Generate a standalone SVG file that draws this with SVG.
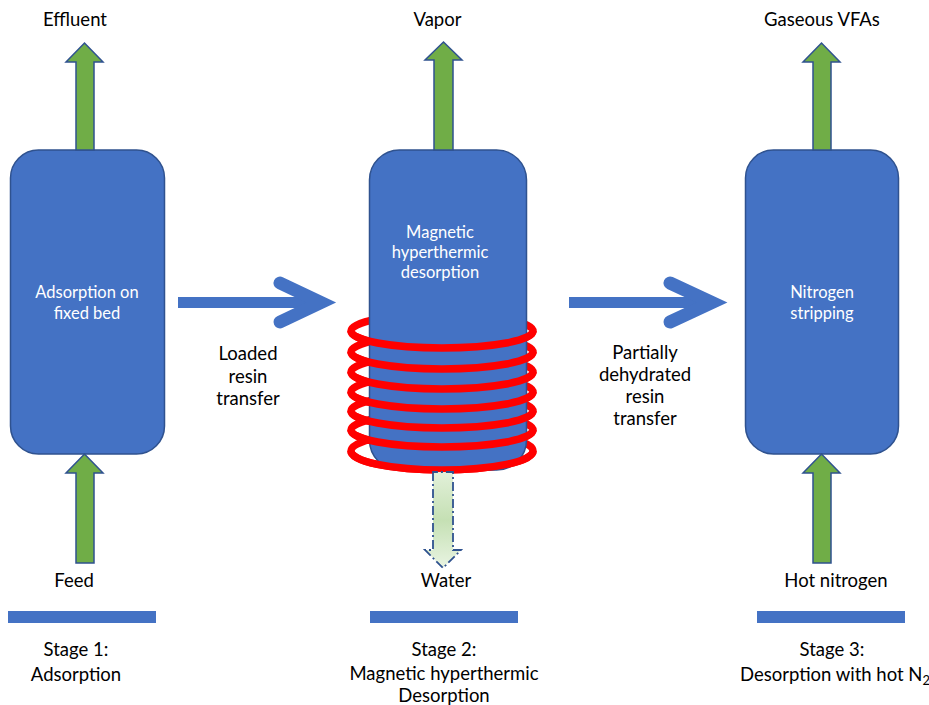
<svg xmlns="http://www.w3.org/2000/svg" width="929" height="705" viewBox="0 0 929 705">
  <defs>
    <style>
      .vessel { fill: #4472C4; stroke: #2F528F; stroke-width: 1.5; }
      .flow { fill: #70AD47; stroke: #2F528F; stroke-width: 1.5; stroke-linejoin: miter; }
      .drain { fill: url(#waterFill); stroke: #2F528F; stroke-width: 1.8; stroke-dasharray: 9 3 2 3; }
      .bar { fill: #4472C4; }
      .coil { fill: none; stroke: #FF0000; stroke-width: 7.5; }
      .shaft { stroke: #4472C4; stroke-width: 11; fill: none; }
      .head { stroke: #4472C4; stroke-width: 13; fill: none; stroke-linecap: round; stroke-linejoin: miter; }
      .label { font-family: Lato, "Liberation Sans", sans-serif; font-size: 18.5px; fill: #000; text-anchor: middle; }
      .inner { font-family: Lato, "Liberation Sans", sans-serif; font-size: 16.5px; fill: #FFFFFF; text-anchor: middle; }
    </style>
    <linearGradient id="waterFill" x1="0" y1="0" x2="0" y2="1">
      <stop offset="0" stop-color="#E2F0D9"/>
      <stop offset="0.5" stop-color="#C5E0B4"/>
      <stop offset="1" stop-color="#E9F4E2"/>
    </linearGradient>
  </defs>

  <!-- Stage 1: fixed-bed adsorption column -->
  <g id="stage1">
    <rect class="vessel" x="10.5" y="150" width="154" height="304" rx="28"/>
    <text class="inner" x="87" y="298">Adsorption on</text>
    <text class="inner" x="87" y="319">fixed bed</text>
  </g>

  <!-- Stage 2: column with induction coil -->
  <g id="stage2">
    <g id="coil-back">
      <ellipse class="coil" cx="442" cy="331" rx="91" ry="17"/>
      <ellipse class="coil" cx="442" cy="352" rx="91" ry="17"/>
      <ellipse class="coil" cx="442" cy="372" rx="91" ry="17"/>
      <ellipse class="coil" cx="442" cy="392" rx="91" ry="17"/>
      <ellipse class="coil" cx="442" cy="411" rx="91" ry="17"/>
      <ellipse class="coil" cx="442" cy="430" rx="91" ry="17"/>
      <ellipse class="coil" cx="442" cy="451" rx="91" ry="19"/>
    </g>
    <rect class="vessel" x="369.5" y="150" width="157" height="320" rx="30"/>
    <g id="coil-front">
      <path class="coil" d="M351 331 A91 17 0 0 0 533 331"/>
      <path class="coil" d="M351 352 A91 17 0 0 0 533 352"/>
      <path class="coil" d="M351 372 A91 17 0 0 0 533 372"/>
      <path class="coil" d="M351 392 A91 17 0 0 0 533 392"/>
      <path class="coil" d="M351 411 A91 17 0 0 0 533 411"/>
      <path class="coil" d="M351 430 A91 17 0 0 0 533 430"/>
      <path class="coil" d="M351 451 A91 19 0 0 0 533 451"/>
    </g>
    <text class="inner" x="440" y="238">Magnetic</text>
    <text class="inner" x="440" y="258">hyperthermic</text>
    <text class="inner" x="440" y="278">desorption</text>
  </g>

  <!-- Stage 3: nitrogen stripping column -->
  <g id="stage3">
    <rect class="vessel" x="745.5" y="150" width="153" height="304" rx="28"/>
    <text class="inner" x="822" y="298">Nitrogen</text>
    <text class="inner" x="822" y="319">stripping</text>
  </g>

  <!-- Connectors: process streams and resin transfers -->
  <g id="connectors">
    <!-- outlet streams -->
    <polygon class="flow" points="76,150 76,62 66,62 84.5,43 103,62 94,62 94,150"/>
    <polygon class="flow" points="434,150 434,60 425,60 443.5,42 462,60 453,60 453,150"/>
    <polygon class="flow" points="813,150 813,62 803,62 821.5,43 840,62 831,62 831,150"/>
    <!-- inlet streams -->
    <polygon class="flow" points="76,563 76,473 66,473 84.5,454 103,473 94,473 94,563"/>
    <polygon class="flow" points="813,563 813,473 803,473 821.5,454 840,473 831,473 831,563"/>
    <!-- water drain -->
    <polygon class="drain" points="433,472 433,550 425,550 443,568 461,550 453,550 453,472"/>
    <!-- resin transfer arrows -->
    <line class="shaft" x1="178" y1="302.5" x2="318" y2="302.5"/>
    <polyline class="head" points="280,283 321,302.5 280,322"/>
    <line class="shaft" x1="569" y1="302.5" x2="710" y2="302.5"/>
    <polyline class="head" points="670,283 712,302.5 670,322"/>
  </g>

  <!-- Stream labels -->
  <g id="labels">
    <text class="label" x="75" y="26">Effluent</text>
    <text class="label" x="437.5" y="26">Vapor</text>
    <text class="label" x="822" y="26">Gaseous VFAs</text>
    <text class="label" x="74" y="587">Feed</text>
    <text class="label" x="446" y="587">Water</text>
    <text class="label" x="836" y="587">Hot nitrogen</text>
    <text class="label" x="248" y="360">Loaded</text>
    <text class="label" x="248" y="383">resin</text>
    <text class="label" x="248" y="405">transfer</text>
    <text class="label" x="645" y="359">Partially</text>
    <text class="label" x="645" y="381">dehydrated</text>
    <text class="label" x="645" y="403">resin</text>
    <text class="label" x="645" y="425">transfer</text>
  </g>

  <!-- Stage captions -->
  <g id="captions">
    <rect class="bar" x="8" y="611" width="148" height="12"/>
    <rect class="bar" x="370" y="611" width="148" height="12"/>
    <rect class="bar" x="757" y="611" width="148" height="12"/>
    <text class="label" x="76" y="656">Stage 1:</text>
    <text class="label" x="76" y="681">Adsorption</text>
    <text class="label" x="444" y="656">Stage 2:</text>
    <text class="label" x="444" y="680">Magnetic hyperthermic</text>
    <text class="label" x="444" y="702">Desorption</text>
    <text class="label" x="832" y="656">Stage 3:</text>
    <text class="label" x="835" y="681">Desorption with hot N<tspan font-size="13" dy="4">2</tspan></text>
  </g>
</svg>
